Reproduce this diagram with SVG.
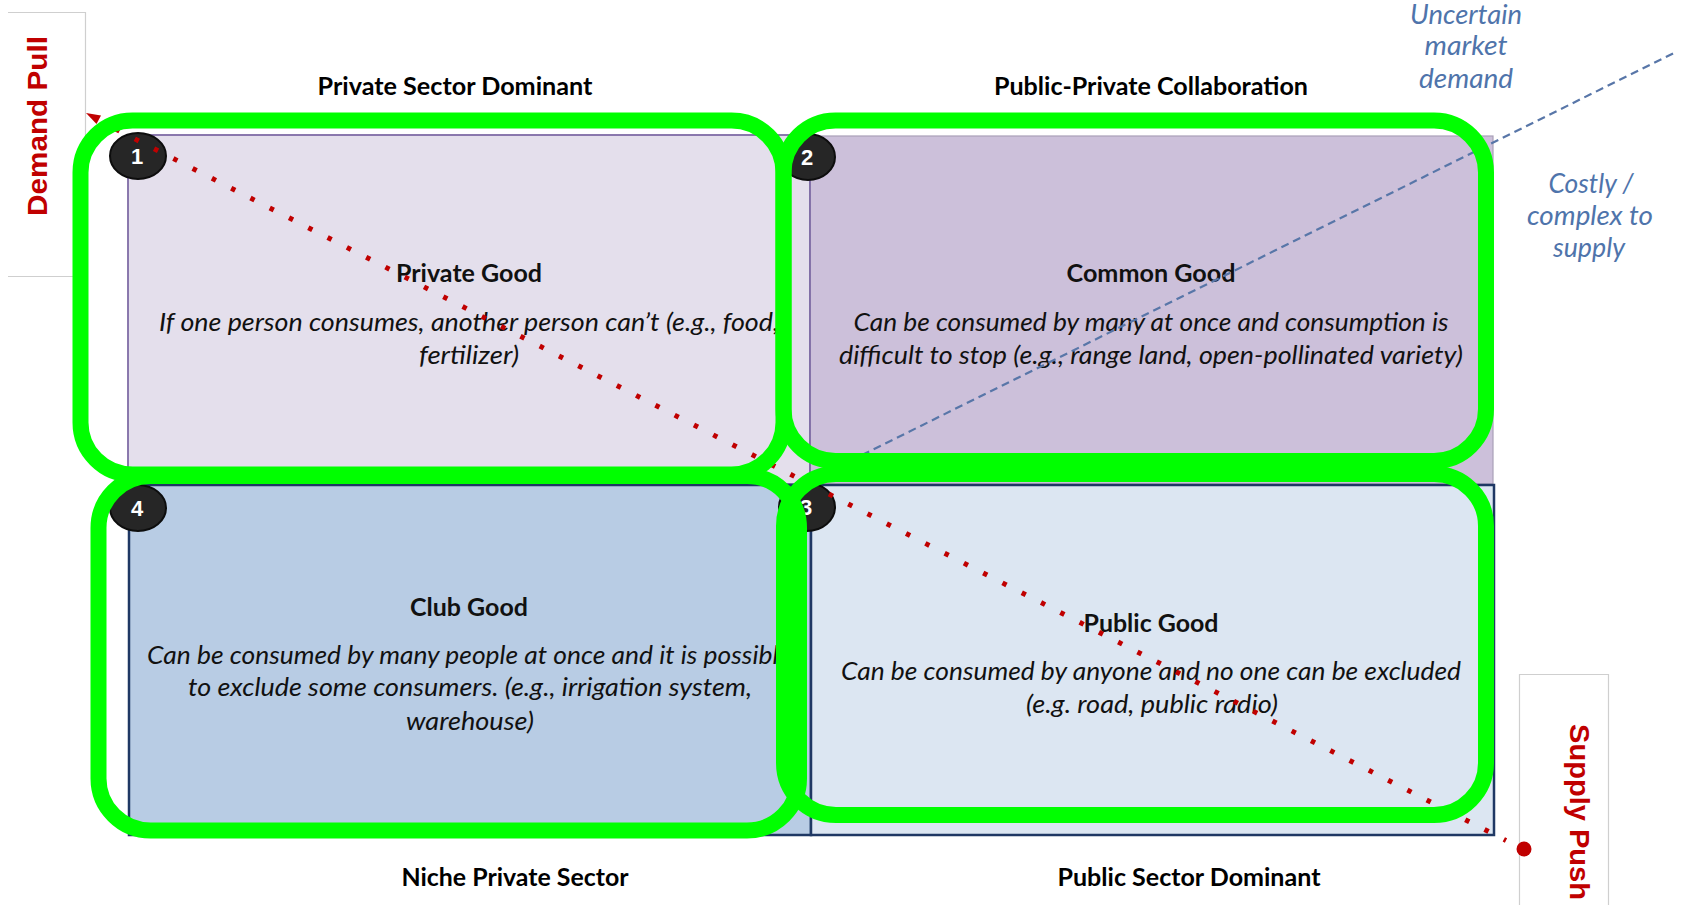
<svg xmlns="http://www.w3.org/2000/svg" width="1684" height="905" viewBox="0 0 1684 905">
<defs>
<style>
.hdr{font-family:Lato,"Liberation Sans",sans-serif;font-weight:700;font-size:24px;fill:#000;text-anchor:middle}
.ttl{font-family:Lato,"Liberation Sans",sans-serif;font-weight:700;font-size:24px;fill:#111;text-anchor:middle}
.desc{font-family:Lato,"Liberation Sans",sans-serif;font-style:italic;font-size:25px;fill:#111;text-anchor:middle}
.desc-s{font-family:Lato,"Liberation Sans",sans-serif;font-style:italic;font-size:25px;fill:#111;text-anchor:start}
.blue{font-family:Lato,"Liberation Sans",sans-serif;font-style:italic;font-size:27px;fill:#4f74ab;text-anchor:middle}
.axis{font-family:"Liberation Sans",Arial,sans-serif;font-weight:700;font-size:28px;fill:#c00000}
.num{font-family:"Liberation Sans",Arial,sans-serif;font-weight:700;font-size:22px;fill:#fff;text-anchor:middle}
.badge{fill:#262626;stroke:#0d0d0d;stroke-width:2}
.green{fill:none;stroke:#00ff00;stroke-width:16}
.box{fill:none;stroke:#cfcfcf;stroke-width:1.2}
</style>
</defs>
<rect width="1684" height="905" fill="#fff"/>

<!-- axis label boxes -->
<g id="demand-pull">
<path class="box" d="M8,12.5 H85.5 V276.5 H8"/>
<text class="axis" transform="translate(47,126) rotate(-90)" text-anchor="middle" textLength="180" lengthAdjust="spacingAndGlyphs">Demand Pull</text>
</g>
<g id="supply-push">
<path class="box" d="M1519.5,905 V674.5 H1608.5 V905"/>
<text class="axis" transform="translate(1570,724) rotate(90)" text-anchor="start" textLength="176" lengthAdjust="spacingAndGlyphs">Supply Push</text>
</g>

<!-- quadrants -->
<g id="q1-private-good">
<rect x="128" y="135" width="682" height="349" fill="#e4dfec" stroke="#7f6ca6" stroke-width="1.8"/>
<text class="ttl" x="469" y="282" textLength="146" lengthAdjust="spacingAndGlyphs">Private Good</text>
<text class="desc-s" x="159" y="331" textLength="620" lengthAdjust="spacingAndGlyphs">If one person consumes, another person can’t (e.g., food,</text>
<text class="desc" x="469" y="364" textLength="100" lengthAdjust="spacingAndGlyphs">fertilizer)</text>
</g>
<g id="q2-common-good">
<rect x="810" y="136" width="683" height="348" fill="#ccc0da" stroke="#a9a0b8" stroke-width="1.2"/>
<line x1="810" y1="136" x2="810" y2="484" stroke="#7f6ca6" stroke-width="1.8"/>
<text class="ttl" x="1151" y="282" textLength="169" lengthAdjust="spacingAndGlyphs">Common Good</text>
<text class="desc" x="1151" y="331" textLength="595" lengthAdjust="spacingAndGlyphs">Can be consumed by many at once and consumption is</text>
<text class="desc" x="1151" y="364" textLength="624" lengthAdjust="spacingAndGlyphs">difficult to stop (e.g., range land, open-pollinated variety)</text>
</g>
<g id="q4-club-good">
<rect x="129" y="485" width="682" height="350" fill="#b8cce4" stroke="#1f3864" stroke-width="2.5"/>
<text class="ttl" x="469" y="616" textLength="118" lengthAdjust="spacingAndGlyphs">Club Good</text>
<text class="desc-s" x="147" y="664" textLength="644" lengthAdjust="spacingAndGlyphs">Can be consumed by many people at once and it is possible</text>
<text class="desc" x="470" y="696" textLength="564" lengthAdjust="spacingAndGlyphs">to exclude some consumers. (e.g., irrigation system,</text>
<text class="desc" x="470" y="730" textLength="128" lengthAdjust="spacingAndGlyphs">warehouse)</text>
</g>
<g id="q3-public-good">
<rect x="811" y="485" width="683" height="350" fill="#dce6f2" stroke="#1f3864" stroke-width="2.5"/>
<text class="ttl" x="1151" y="632" textLength="135" lengthAdjust="spacingAndGlyphs">Public Good</text>
<text class="desc" x="1151" y="680" textLength="620" lengthAdjust="spacingAndGlyphs">Can be consumed by anyone and no one can be excluded</text>
<text class="desc" x="1152" y="713" textLength="252" lengthAdjust="spacingAndGlyphs">(e.g. road, public radio)</text>
</g>

<!-- badges -->
<g id="badge-1"><ellipse class="badge" cx="138" cy="156" rx="28" ry="23"/><text class="num" x="137" y="164">1</text></g>
<g id="badge-2"><ellipse class="badge" cx="808" cy="157" rx="27" ry="23"/><text class="num" x="807" y="165">2</text></g>
<g id="badge-3"><ellipse class="badge" cx="807" cy="507" rx="28" ry="24"/><text class="num" x="806" y="515">3</text></g>
<g id="badge-4"><ellipse class="badge" cx="138" cy="508" rx="28" ry="23"/><text class="num" x="137" y="516">4</text></g>

<!-- connectors -->
<g id="connectors">
<line x1="862" y1="455" x2="1676" y2="52" stroke="#5876a8" stroke-width="2.2" stroke-dasharray="8 5"/>
<line x1="115.5" y1="129" x2="1506" y2="840.5" stroke="#c00000" stroke-width="5" stroke-dasharray="4.5 17.16"/>
<polygon points="86,113 101,115.5 96.5,124" fill="#c00000"/>
<circle cx="1524" cy="849" r="7.5" fill="#c00000"/>
</g>

<!-- green highlight outlines -->
<g id="highlights">
<rect class="green" x="80.5" y="120.5" width="703" height="354" rx="52"/>
<rect class="green" x="783.5" y="120.5" width="702.5" height="340.5" rx="52"/>
<rect class="green" x="784" y="474" width="702" height="341" rx="52"/>
<rect class="green" x="98.5" y="476" width="700.5" height="354.5" rx="52"/>
</g>

<!-- header labels -->
<g id="labels">
<text class="hdr" x="455" y="95" textLength="275" lengthAdjust="spacingAndGlyphs">Private Sector Dominant</text>
<text class="hdr" x="1151" y="95" textLength="314" lengthAdjust="spacingAndGlyphs">Public-Private Collaboration</text>
<text class="hdr" x="515" y="886" textLength="227" lengthAdjust="spacingAndGlyphs">Niche Private Sector</text>
<text class="hdr" x="1189" y="886" textLength="263" lengthAdjust="spacingAndGlyphs">Public Sector Dominant</text>
<text class="blue" x="1466" y="24" textLength="112" lengthAdjust="spacingAndGlyphs">Uncertain</text>
<text class="blue" x="1466" y="55" textLength="83" lengthAdjust="spacingAndGlyphs">market</text>
<text class="blue" x="1466" y="88" textLength="94" lengthAdjust="spacingAndGlyphs">demand</text>
<text class="blue" x="1591" y="193" textLength="85" lengthAdjust="spacingAndGlyphs">Costly /</text>
<text class="blue" x="1590" y="225" textLength="126" lengthAdjust="spacingAndGlyphs">complex to</text>
<text class="blue" x="1589" y="257" textLength="72" lengthAdjust="spacingAndGlyphs">supply</text>
</g>
</svg>
